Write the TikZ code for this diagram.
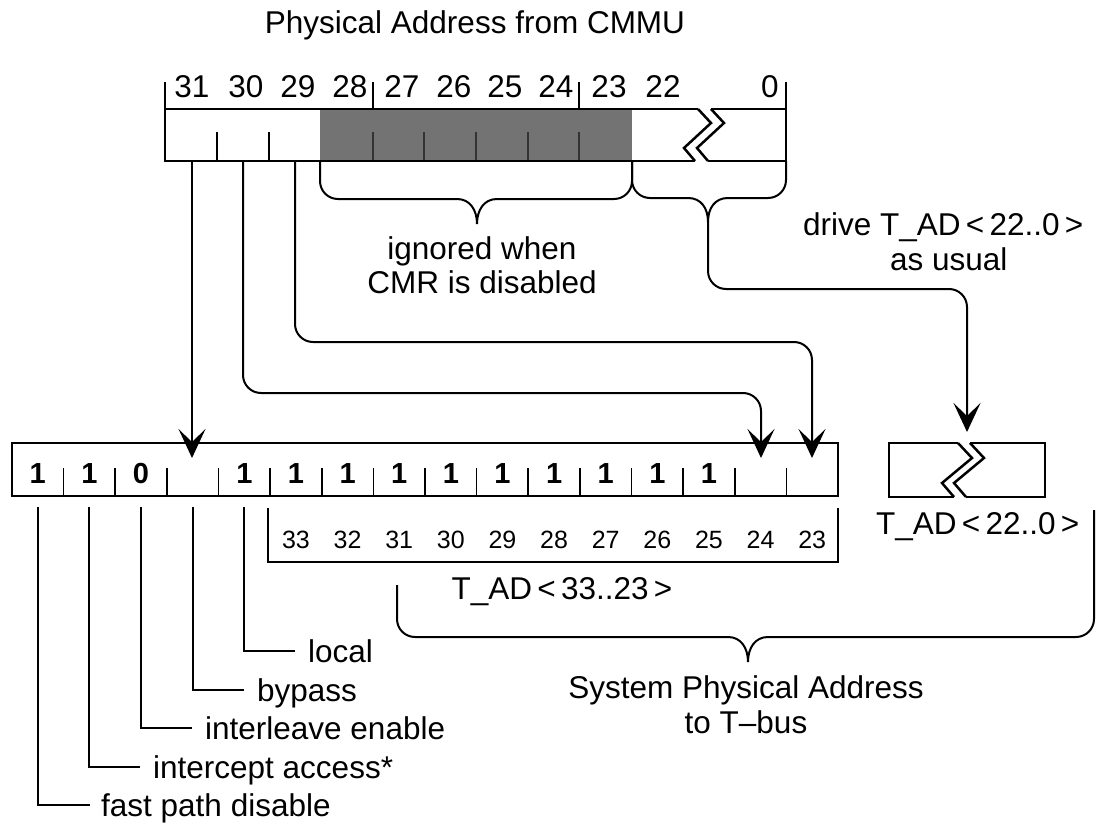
\documentclass[tikz,border=0pt]{standalone}
\usepackage{fontspec}
\setmainfont{Liberation Sans}
\usetikzlibrary{arrows.meta}

\tikzset{
  txt/.style={font=\fontsize{31.5}{38}\selectfont, inner sep=0pt, text height=22.5pt, text depth=0pt},
  smallnum/.style={font=\fontsize{25}{30}\selectfont, inner sep=0pt, text height=18pt, text depth=0pt},
  bitval/.style={font=\fontsize{29}{34}\selectfont\bfseries, inner sep=0pt, text height=21pt, text depth=0pt},
  wire/.style={line width=2pt, rounded corners=18pt},
  brace/.style={line width=2pt},
  leader/.style={line width=2pt},
  box/.style={line width=2.5pt, line join=miter},
  tick/.style={line width=1.6pt},
  bigarrow/.style={-{Stealth[length=29pt,width=27pt,inset=13pt]}}
}

\begin{document}
\begin{tikzpicture}[x=1pt,y=-1pt]
\useasboundingbox (0,0) rectangle (1096,827);

% Physical address from the CMMU
\node[txt] (title) at (475,22) {Physical Address from CMMU};
\fill[black!55] (320,109) rectangle (632,161);
\foreach \x in {373,424,476,528,579}
  \draw[tick,black!80] (\x,132) -- (\x,161);
\draw[box] (698,109) -- (165,109) -- (165,161) -- (695,161);
\draw[box] (698,109) -- (711,123) -- (684,148) -- (695,161);
\draw[box] (711,109) -- (724,123) -- (697,148) -- (708,161);
\draw[box] (711,109) -- (786,109) -- (786,161) -- (708,161);
\foreach \x in {217,269}
  \draw[tick] (\x,132) -- (\x,161);
\foreach \x in {165,373,579,786}
  \draw[tick] (\x,82) -- (\x,109);
\foreach \n/\x in {31/192,30/246,29/298,28/350,27/402,26/454,25/505,24/556,23/609,22/663,0/770}
  \node[txt] (p\n) at (\x,86) {\n};

% Bit sources and targets
\coordinate (b31) at (192,161);
\coordinate (b30) at (243,161);
\coordinate (b29) at (295,161);
\coordinate (lo) at (632,161);
\coordinate (r31) at (192,458);
\coordinate (r24) at (761,458);
\coordinate (r23) at (812,458);
\coordinate (tipB) at (708,222);
\coordinate (in22) at (967,432);

% Braces under the address
\draw[brace] (320,161) -- (320,181) .. controls (320,191) and (328,199) .. (338,199) -- (457,199)
  .. controls (470,199) and (477,210) .. (477,224) .. controls (477,210) and (484,199) .. (497,199)
  -- (614,199) .. controls (624,199) and (632,191) .. (632,181) -- (lo);
\draw[brace] (lo) -- (632,180) .. controls (632,190) and (640,198) .. (650,198) -- (688,198)
  .. controls (701,198) and (708,208) .. (tipB) .. controls (708,208) and (715,198) .. (728,198)
  -- (768,198) .. controls (778,198) and (786,190) .. (786,180) -- (786,161);
\node[txt] (ign1) at (482,248) {ignored when};
\node[txt] (ign2) at (482,282) {CMR is disabled};
\node[txt,anchor=west] (drv1) at (803,224) {drive T\_AD\,<\,22..0\,>};
\node[txt,anchor=west] (drv2) at (890,259) {as usual};

% Connectors
\draw[wire,bigarrow] (b31) -- (r31);
\draw[wire,bigarrow] (b30) -- (243,393) -- (761,393) -- (r24);
\draw[wire,bigarrow] (b29) -- (295,342) -- (812,342) -- (r23);
\draw[wire,bigarrow] (tipB) -- (708,289) -- (967,289) -- (in22);

% System physical address register
\draw[box] (12,443) rectangle (838,496);
\foreach \i in {1,...,15}
  \draw[tick] ({12+51.625*\i},468) -- ({12+51.625*\i},496);
\foreach \i/\v in {1/1,2/1,3/0,5/1,6/1,7/1,8/1,9/1,10/1,11/1,12/1,13/1,14/1}
  \node[bitval] (v\i) at ({12+51.625*(\i-0.5)},473) {\v};
\foreach \i in {1,...,5}
  \coordinate (c\i) at ({12+51.625*(\i-0.5)},507);
\foreach \i/\n in {6/33,7/32,8/31,9/30,10/29,11/28,12/27,13/26,14/25,15/24,16/23}
  \node[smallnum] (n\n) at ({12+51.625*(\i-0.5)},539) {\n};
\draw[leader] (268,508) -- (268,562) -- (838,562) -- (838,508);
\node[txt] (tad1) at (562,588) {T\_AD\,<\,33..23\,>};

% T_AD<22..0>
\draw[box] (958,443) -- (889,443) -- (889,497) -- (954,497);
\draw[box] (958,443) -- (972,458) -- (942,483) -- (954,497);
\draw[box] (970,443) -- (984,458) -- (954,483) -- (966,497);
\draw[box] (970,443) -- (1045,443) -- (1045,497) -- (966,497);
\node[txt,anchor=west] (tad0) at (876,523) {T\_AD\,<\,22..0\,>};

% System address brace
\draw[brace] (397,585) -- (397,619) .. controls (397,629) and (405,637) .. (415,637) -- (728,637)
  .. controls (741,637) and (748,648) .. (748,662) .. controls (748,648) and (755,637) .. (768,637)
  -- (1076,637) .. controls (1086,637) and (1094,629) .. (1094,619) -- (1094,510);
\node[txt] (sys1) at (746,687) {System Physical Address};
\node[txt] (sys2) at (746,722) {to T--bus};

% Control bit labels
\node[txt,anchor=west] (lloc) at (308,651) {local};
\node[txt,anchor=west] (lbyp) at (257,690) {bypass};
\node[txt,anchor=west] (lint) at (205,728) {interleave enable};
\node[txt,anchor=west] (lica) at (153,767) {intercept access*};
\node[txt,anchor=west] (lfpd) at (101,805) {fast path disable};
\draw[leader] (c5) |- ([xshift=-13pt]lloc.west);
\draw[leader] (c4) |- ([xshift=-13pt]lbyp.west);
\draw[leader] (c3) |- ([xshift=-13pt]lint.west);
\draw[leader] (c2) |- ([xshift=-13pt]lica.west);
\draw[leader] (c1) |- ([xshift=-11pt]lfpd.west);
\end{tikzpicture}
\end{document}
